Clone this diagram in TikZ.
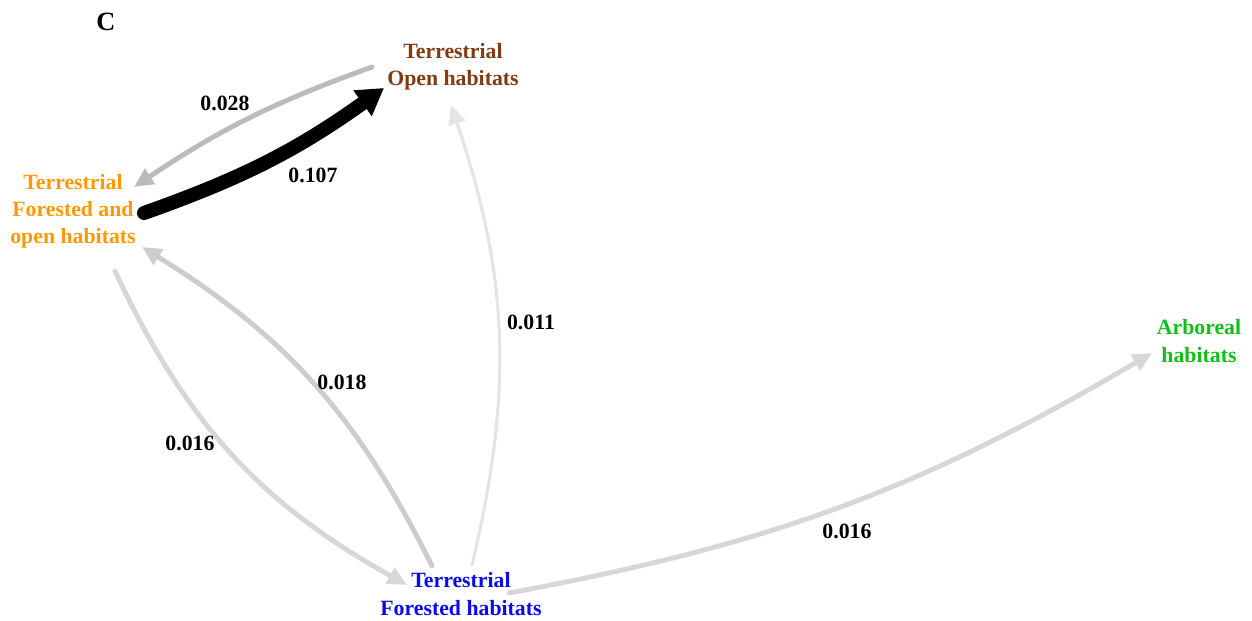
\documentclass[tikz,border=0pt]{standalone}
\usepackage{fontspec}
\setmainfont{Liberation Serif}
\usetikzlibrary{arrows.meta}
\definecolor{cbrown}{RGB}{128,60,16}
\definecolor{corange}{RGB}{255,153,0}
\definecolor{cblue}{RGB}{10,10,240}
\definecolor{cgreen}{RGB}{15,190,25}
\definecolor{g028}{RGB}{187,187,187}
\definecolor{g018}{RGB}{205,205,205}
\definecolor{g016}{RGB}{215,215,215}
\definecolor{g011}{RGB}{228,228,228}
\begin{document}
\begin{tikzpicture}[x=0.02cm,y=-0.02cm,
  lab/.style={font=\bfseries\fontsize{12.4}{15.5}\selectfont, align=center, inner sep=0pt},
  num/.style={font=\bfseries\fontsize{12.4}{15.5}\selectfont, inner sep=0pt},
  conn/.style={line cap=round, line width=2.8pt, -{Triangle[length=11pt,width=10pt]}},
  thick conn/.style={line cap=round, line width=8pt, -{Triangle[length=15pt,width=17pt]}}
 ]
\useasboundingbox (0,0) rectangle (1252,621);
\node[font=\bfseries\fontsize{15}{18}\selectfont, inner sep=0pt] (C) at (106,22) {C};
\node[lab, text=cbrown] (op) at (453,67) {Terrestrial\\Open habitats};
\node[lab, text=corange] (fo) at (73,211) {Terrestrial\\Forested and\\open habitats};
\node[lab, text=cblue] (fh) at (461,594) {Terrestrial\\Forested habitats};
\node[lab, text=cgreen] (ar) at (1199,341) {Arboreal\\habitats};

\draw[conn, g028] ([shift={(-81,0)}]op.center) to[bend right=7] ([shift={(61,-24)}]fo.center);
\draw[thick conn, black] ([shift={(71,2)}]fo.center) to[bend right=8] ([shift={(-69,21)}]op.center);
\draw[conn, g016] ([shift={(42,60)}]fo.center) to[bend right=18] ([shift={(-54,-9)}]fh.center);
\draw[conn, g018] ([shift={(-29,-28)}]fh.center) to[bend right=16] ([shift={(69,36)}]fo.center);
\draw[conn, g011, line width=1.8pt] ([shift={(11,-29)}]fh.center) to[bend right=16] ([shift={(-2,38)}]op.center);
\draw[conn, g016] ([shift={(48,-1)}]fh.center) to[bend right=10] ([shift={(-47,12)}]ar.center);

\node[num] (l028) at (225,103) {0.028};
\node[num] (l107) at (313,175) {0.107};
\node[num] (l016a) at (190,443) {0.016};
\node[num] (l018) at (342,382) {0.018};
\node[num] (l011) at (531,322) {0.011};
\node[num] (l016b) at (847,531) {0.016};
\end{tikzpicture}
\end{document}
